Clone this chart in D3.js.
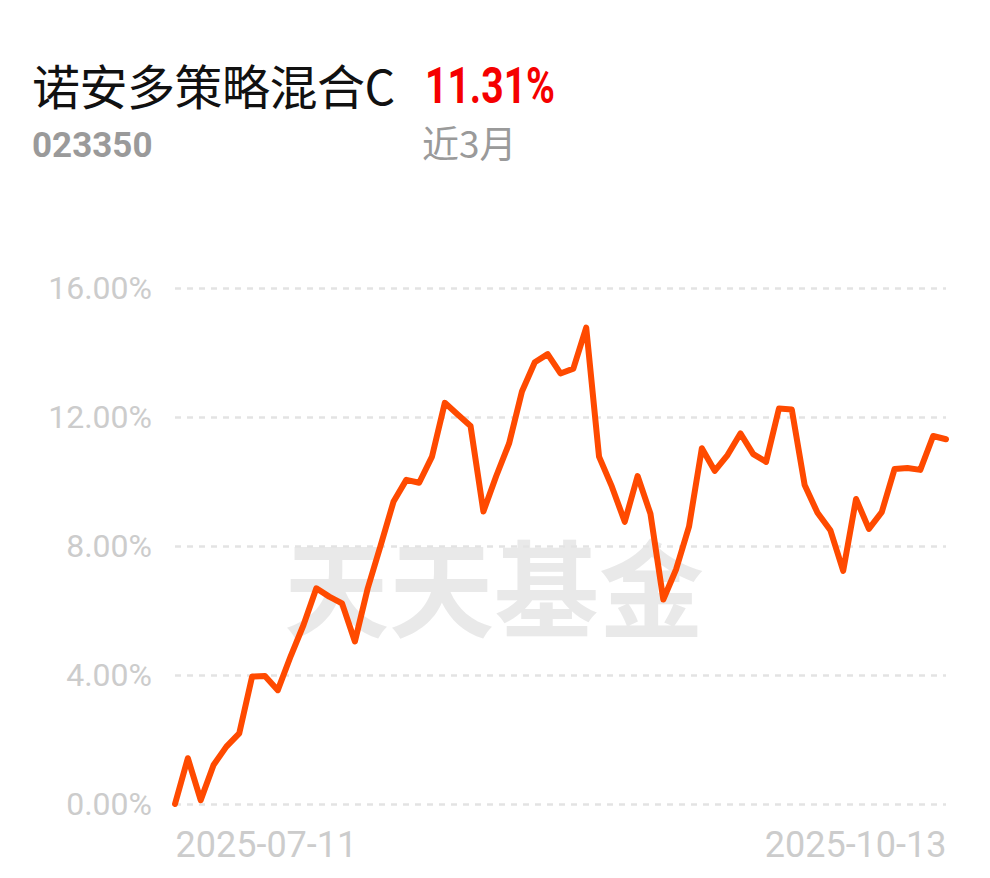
<!DOCTYPE html>
<html>
<head>
<meta charset="utf-8">
<script src="https://cdn.jsdelivr.net/npm/d3@7"></script>
<style>
  html, body { margin: 0; padding: 0; background: #fff; }
  svg { display: block; }
</style>
</head>
<body>
<svg id="chart-svg" width="990" height="878"></svg>
<script>
// ==================== DATA ====================
const fundName = '诺安多策略混合C';
const fundCode = '023350';
const periodLabel = '近3月';
const periodReturn = '11.31%';

const dates = [
  '2025-07-11',
  '2025-07-14', '2025-07-15', '2025-07-16', '2025-07-17', '2025-07-18',
  '2025-07-21', '2025-07-22', '2025-07-23', '2025-07-24', '2025-07-25',
  '2025-07-28', '2025-07-29', '2025-07-30', '2025-07-31', '2025-08-01',
  '2025-08-04', '2025-08-05', '2025-08-06', '2025-08-07', '2025-08-08',
  '2025-08-11', '2025-08-12', '2025-08-13', '2025-08-14', '2025-08-15',
  '2025-08-18', '2025-08-19', '2025-08-20', '2025-08-21', '2025-08-22',
  '2025-08-25', '2025-08-26', '2025-08-27', '2025-08-28', '2025-08-29',
  '2025-09-01', '2025-09-02', '2025-09-03', '2025-09-04', '2025-09-05',
  '2025-09-08', '2025-09-09', '2025-09-10', '2025-09-11', '2025-09-12',
  '2025-09-15', '2025-09-16', '2025-09-17', '2025-09-18', '2025-09-19',
  '2025-09-22', '2025-09-23', '2025-09-24', '2025-09-25', '2025-09-26',
  '2025-09-29', '2025-09-30', '2025-10-09', '2025-10-10', '2025-10-13'
];

// cumulative return, %
const returns = [
  0.00, 1.42, 0.12, 1.21, 1.78, 2.19, 3.95, 3.97, 3.53, 4.58,
  5.55, 6.69, 6.43, 6.22, 5.04, 6.69, 8.01, 9.37, 10.05, 9.96,
  10.77, 12.44, 12.08, 11.72, 9.07, 10.17, 11.18, 12.79, 13.70, 13.95,
  13.35, 13.50, 14.77, 10.77, 9.84, 8.75, 10.17, 9.00, 6.34, 7.28,
  8.60, 11.03, 10.33, 10.82, 11.49, 10.85, 10.61, 12.26, 12.23, 9.89,
  9.03, 8.49, 7.23, 9.46, 8.53, 9.05, 10.39, 10.42, 10.36, 11.41,
  11.31
];

const yTicks = [0, 4, 8, 12, 16];
const xTicks = ['2025-07-11', '2025-10-13'];

// ==================== CHART ====================
const chart = {
  left: 175,
  right: 946,
  top: 288,
  bottom: 804,
  lineColor: '#ff4a00',
  labelColor: '#cccccc',
  latin: 'Roboto, "Noto Sans", sans-serif',
  cjk: '"Noto Sans CJK SC", "Noto Sans", sans-serif',

  init() {
    const svg = d3.select('#chart-svg');
    svg.selectAll('*').remove();
    this.renderHeader(svg);
    this.renderWatermark(svg);
    this.renderChart(svg);
  },

  renderHeader(svg) {
    svg.append('text')
      .attr('x', 32)
      .attr('y', 105)
      .attr('font-family', this.cjk)
      .attr('font-size', '48px')
      .attr('fill', '#111')
      .attr('textLength', 363)
      .attr('lengthAdjust', 'spacing')
      .text(fundName);

    svg.append('text')
      .attr('x', 425)
      .attr('y', 103)
      .attr('font-family', this.latin)
      .attr('font-weight', 700)
      .attr('font-size', '50px')
      .attr('fill', '#f50000')
      .attr('textLength', 130)
      .attr('lengthAdjust', 'spacingAndGlyphs')
      .text(periodReturn);

    svg.append('text')
      .attr('x', 32)
      .attr('y', 157)
      .attr('font-family', this.latin)
      .attr('font-weight', 700)
      .attr('font-size', '35px')
      .attr('fill', '#9a9a9a')
      .text(fundCode);

    svg.append('text')
      .attr('x', 422)
      .attr('y', 158)
      .attr('font-family', this.cjk)
      .attr('font-size', '37px')
      .attr('fill', '#9a9a9a')
      .text(periodLabel);
  },

  renderWatermark(svg) {
    svg.append('text')
      .attr('x', 284)
      .attr('y', 629)
      .attr('font-family', this.cjk)
      .attr('font-weight', 700)
      .attr('font-size', '105px')
      .attr('fill', '#e9e9e9')
      .text('天天基金');
  },

  renderChart(svg) {
    const x = d3.scalePoint().domain(dates).range([this.left, this.right]);
    const y = d3.scaleLinear().domain([0, 16]).range([this.bottom, this.top]);

    // grid lines
    const grid = svg.append('g')
      .attr('transform', `translate(${this.left},0)`)
      .call(d3.axisLeft(y).tickValues(yTicks).tickSize(-(this.right - this.left)).tickFormat(''));
    grid.select('.domain').remove();
    grid.selectAll('line')
      .attr('stroke', '#e3e3e3')
      .attr('stroke-width', 2.5)
      .attr('stroke-dasharray', '6,6');

    // y labels
    const yAxis = svg.append('g')
      .attr('transform', `translate(152,0)`)
      .call(d3.axisLeft(y).tickValues(yTicks).tickSize(0).tickPadding(0)
        .tickFormat((d) => d.toFixed(2) + '%'));
    yAxis.select('.domain').remove();
    yAxis.selectAll('text')
      .attr('font-family', this.latin)
      .attr('font-size', '32px')
      .attr('fill', this.labelColor);

    // x labels
    const xAxis = svg.append('g')
      .attr('transform', `translate(0,${this.bottom})`)
      .call(d3.axisBottom(x).tickValues(xTicks).tickSize(0).tickPadding(0));
    xAxis.select('.domain').remove();
    xAxis.selectAll('text')
      .attr('font-family', this.latin)
      .attr('font-size', '36px')
      .attr('fill', this.labelColor)
      .attr('dy', null)
      .attr('y', 53)
      .attr('text-anchor', (d, i) => (i === 0 ? 'start' : 'end'));

    // return line
    const line = d3.line()
      .x((d, i) => x(dates[i]))
      .y((d) => y(d));

    svg.append('path')
      .datum(returns)
      .attr('fill', 'none')
      .attr('stroke', this.lineColor)
      .attr('stroke-width', 6)
      .attr('stroke-linejoin', 'round')
      .attr('stroke-linecap', 'round')
      .attr('d', line);
  }
};

chart.init();
</script>
</body>
</html>
